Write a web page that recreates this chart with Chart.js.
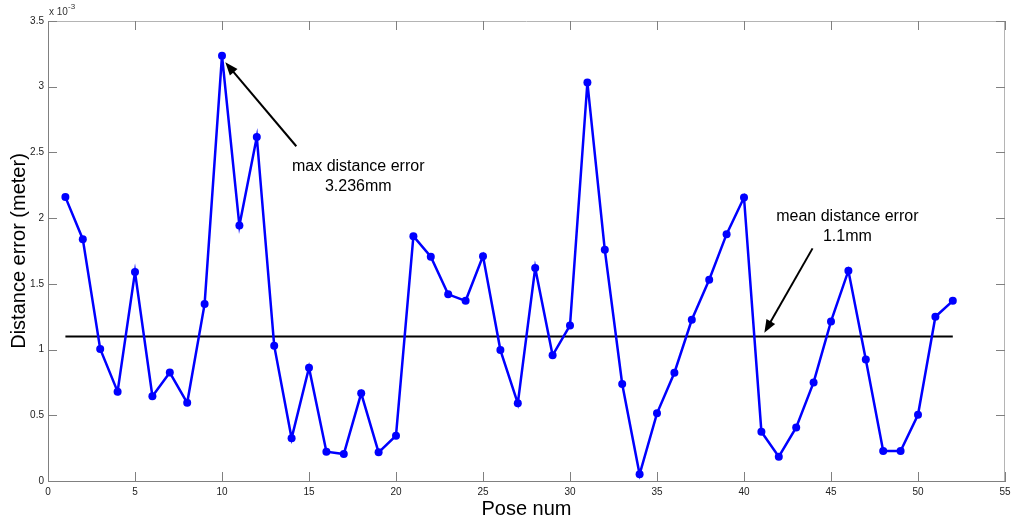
<!DOCTYPE html>
<html>
<head>
<meta charset="utf-8">
<script src="https://cdn.jsdelivr.net/npm/chart.js@4.4.0/dist/chart.umd.min.js"></script>
<style>
    html, body { margin: 0; padding: 0; background: #fff; }
    #wrap { width: 1024px; height: 525px; }
</style>
</head>
<body>
<div id="wrap"><canvas id="myChart" width="1024" height="525"></canvas></div>
<script>
// pose numbers and distance error (x 10^-3 meter)
const poseNums = [1, 2, 3, 4, 5, 6, 7, 8, 9, 10, 11, 12, 13, 14, 15, 16, 17, 18, 19, 20,
    21, 22, 23, 24, 25, 26, 27, 28, 29, 30, 31, 32, 33, 34, 35, 36, 37, 38, 39, 40,
    41, 42, 43, 44, 45, 46, 47, 48, 49, 50, 51, 52];
const distError = [2.16, 1.84, 1.005, 0.68, 1.59, 0.645, 0.825, 0.595, 1.346, 3.236,
    1.944, 2.618, 1.03, 0.325, 0.862, 0.223, 0.205, 0.667, 0.218, 0.345,
    1.863, 1.706, 1.42, 1.371, 1.711, 0.996, 0.591, 1.62, 0.956, 1.184,
    3.032, 1.759, 0.738, 0.051, 0.515, 0.824, 1.227, 1.531, 1.878, 2.157,
    0.375, 0.185, 0.408, 0.75, 1.214, 1.60, 0.925, 0.228, 0.228, 0.504,
    1.25, 1.371];
const meanError = 1.1;
const xTicks = [0, 5, 10, 15, 20, 25, 30, 35, 40, 45, 50, 55];
const yTicks = [0, 0.5, 1, 1.5, 2, 2.5, 3, 3.5];

// annotation text + arrow (data units)
const notes = [
    { lines: ['max distance error', '3.236mm'], x: 17.83, y: 2.395, from: [14.27, 2.547], to: [10.19, 3.186] },
    { lines: ['mean distance error', '1.1mm'], x: 45.94, y: 2.01, from: [43.94, 1.77], to: [41.17, 1.128] }
];

const FONT = '"Liberation Sans", Arial, sans-serif';

// matlab style box: inward ticks on all four sides + annotations
const boxPlugin = {
    id: 'matlabBox',
    afterDraw(chart) {
        const c = chart.ctx;
        const xs = chart.scales.x, ys = chart.scales.y;
        const a = chart.chartArea;
        c.save();
        // top and right edges
        c.strokeStyle = '#b4b4b4';
        c.lineWidth = 1;
        c.beginPath();
        c.moveTo(a.left, a.top + 0.5); c.lineTo(a.right, a.top + 0.5);
        c.moveTo(a.right - 0.5, a.top); c.lineTo(a.right - 0.5, a.bottom);
        c.stroke();

        c.strokeStyle = '#808080';
        c.beginPath();
        xTicks.forEach(function (v) {
            let px = Math.round(xs.getPixelForValue(v)) + 0.5;
            c.moveTo(px, a.bottom); c.lineTo(px, a.bottom - 9);
            c.moveTo(px, a.top); c.lineTo(px, a.top + 9);
        });
        yTicks.forEach(function (v) {
            let py = Math.round(ys.getPixelForValue(v)) + 0.5;
            c.moveTo(a.left, py); c.lineTo(a.left + 9, py);
            c.moveTo(a.right, py); c.lineTo(a.right - 9, py);
        });
        c.stroke();

        // exponent label
        c.fillStyle = '#333';
        c.textBaseline = 'middle';
        c.textAlign = 'left';
        c.font = '10px ' + FONT;
        c.fillText('x 10', a.left + 1, 12);
        c.font = '8px ' + FONT;
        c.fillText('-3', a.left + 20, 7);

        // annotations
        c.fillStyle = '#000';
        c.strokeStyle = '#000';
        c.font = '16px ' + FONT;
        c.textAlign = 'center';
        notes.forEach(function (n) {
            let tx = xs.getPixelForValue(n.x), ty = ys.getPixelForValue(n.y);
            n.lines.forEach(function (t, i) { c.fillText(t, tx, ty + i * 20); });

            let x0 = xs.getPixelForValue(n.from[0]), y0 = ys.getPixelForValue(n.from[1]);
            let x1 = xs.getPixelForValue(n.to[0]), y1 = ys.getPixelForValue(n.to[1]);
            let ang = Math.atan2(y1 - y0, x1 - x0);
            c.lineWidth = 2;
            c.beginPath();
            c.moveTo(x0, y0);
            c.lineTo(x1 - 8 * Math.cos(ang), y1 - 8 * Math.sin(ang));
            c.stroke();
            c.beginPath();
            c.moveTo(x1, y1);
            c.lineTo(x1 - 13 * Math.cos(ang) + 5 * Math.sin(ang), y1 - 13 * Math.sin(ang) - 5 * Math.cos(ang));
            c.lineTo(x1 - 13 * Math.cos(ang) - 5 * Math.sin(ang), y1 - 13 * Math.sin(ang) + 5 * Math.cos(ang));
            c.closePath();
            c.fill();
        });
        c.restore();
    }
};

let ctx = document.getElementById('myChart').getContext('2d');
let chart = new Chart(ctx, {
    type: 'line',
    data: {
        datasets: [{
            label: 'distance error',
            data: poseNums.map(function (p, i) { return { x: p, y: distError[i] }; }),
            borderColor: '#0000ff',
            backgroundColor: '#0000ff',
            borderWidth: 2.5,
            pointRadius: 4,
            pointBorderWidth: 0,
            tension: 0
        }, {
            label: 'mean',
            data: [{ x: poseNums[0], y: meanError }, { x: poseNums[poseNums.length - 1], y: meanError }],
            borderColor: '#000',
            borderWidth: 2,
            pointRadius: 0
        }]
    },
    options: {
        responsive: false,
        animation: false,
        layout: { padding: { top: 21, right: 19, left: 0, bottom: 0 } },
        plugins: { legend: { display: false }, tooltip: { enabled: false } },
        scales: {
            x: {
                type: 'linear',
                min: 0, max: 55,
                afterBuildTicks: function (s) { s.ticks = xTicks.map(function (v) { return { value: v }; }); },
                afterFit: function (s) { s.height = 44; },
                grid: { display: false, drawTicks: false },
                border: { display: true, color: '#808080', width: 1 },
                ticks: { padding: 5, font: { size: 10, family: FONT }, color: '#222', maxRotation: 0,
                    callback: function (v) { return String(v); } },
                title: { display: true, text: 'Pose num', font: { size: 20, family: FONT }, color: '#000', padding: { top: 0, bottom: 4 } }
            },
            y: {
                min: 0, max: 3.5,
                afterBuildTicks: function (s) { s.ticks = yTicks.map(function (v) { return { value: v }; }); },
                afterFit: function (s) { s.width = 48; },
                grid: { display: false, drawTicks: false },
                border: { display: true, color: '#808080', width: 1 },
                ticks: { padding: 4, font: { size: 10, family: FONT }, color: '#222',
                    callback: function (v) { return String(v); } },
                title: { display: true, text: 'Distance error (meter)', font: { size: 20, family: FONT }, color: '#000', padding: { top: 7, bottom: 0 } }
            }
        }
    },
    plugins: [boxPlugin]
});
</script>
</body>
</html>
